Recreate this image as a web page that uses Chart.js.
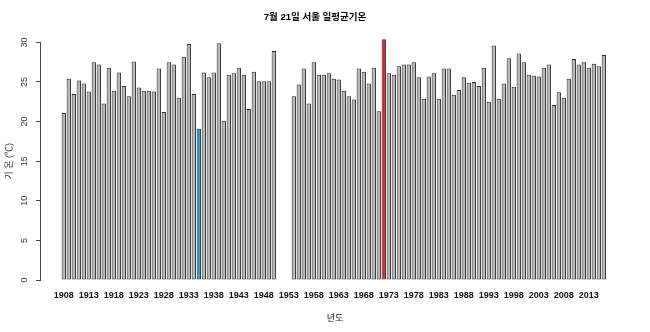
<!DOCTYPE html>
<html>
<head>
<meta charset="utf-8">
<script src="https://cdn.jsdelivr.net/npm/chart.js@4"></script>
<style>
  html, body { margin: 0; padding: 0; background: #fff; }
  #wrap { width: 650px; height: 332px; }
</style>
</head>
<body>
<div id="wrap"><canvas id="chart" width="650" height="332"></canvas></div>
<script>
// 연도 (1951~1953 결측)
const years = [
  1908, 1909, 1910, 1911, 1912, 1913, 1914, 1915, 1916, 1917,
  1918, 1919, 1920, 1921, 1922, 1923, 1924, 1925, 1926, 1927,
  1928, 1929, 1930, 1931, 1932, 1933, 1934, 1935, 1936, 1937,
  1938, 1939, 1940, 1941, 1942, 1943, 1944, 1945, 1946, 1947,
  1948, 1949, 1950, 1951, 1952, 1953, 1954, 1955, 1956, 1957,
  1958, 1959, 1960, 1961, 1962, 1963, 1964, 1965, 1966, 1967,
  1968, 1969, 1970, 1971, 1972, 1973, 1974, 1975, 1976, 1977,
  1978, 1979, 1980, 1981, 1982, 1983, 1984, 1985, 1986, 1987,
  1988, 1989, 1990, 1991, 1992, 1993, 1994, 1995, 1996, 1997,
  1998, 1999, 2000, 2001, 2002, 2003, 2004, 2005, 2006, 2007,
  2008, 2009, 2010, 2011, 2012, 2013, 2014, 2015, 2016
];

// 7월 21일 일평균기온 (℃)
const temps = [
  21.1, 25.4, 23.5, 25.2, 24.8, 23.8, 27.5, 27.2, 22.3, 26.8,
  23.9, 26.2, 24.5, 23.2, 27.6, 24.3, 23.9, 23.9, 23.8, 26.7,
  21.2, 27.5, 27.2, 23.0, 28.2, 29.8, 23.5, 19.1, 26.2, 25.6,
  26.2, 29.9, 20.1, 25.9, 26.1, 26.8, 25.9, 21.6, 26.3, 25.1,
  25.1, 25.1, 28.9, null, null, null, 23.2, 24.7, 26.7, 22.3,
  27.5, 25.9, 25.9, 26.1, 25.4, 25.3, 23.9, 23.2, 22.8, 26.7,
  26.3, 24.8, 26.8, 21.3, 30.4, 26.1, 25.9, 27.0, 27.2, 27.2,
  27.5, 25.6, 22.9, 25.7, 26.1, 22.9, 26.7, 26.7, 23.4, 24.0,
  25.6, 24.9, 25.0, 24.5, 26.8, 22.5, 29.6, 22.9, 24.8, 28.0,
  24.4, 28.6, 27.5, 25.9, 25.8, 25.7, 26.8, 27.2, 22.1, 23.7,
  23.0, 25.4, 27.9, 27.2, 27.5, 26.8, 27.3, 27.0, 28.4
];

const tickYears = [
  1908, 1913, 1918, 1923, 1928, 1933, 1938, 1943, 1948, 1953, 1958,
  1963, 1968, 1973, 1978, 1983, 1988, 1993, 1998, 2003, 2008, 2013
];
const yTicks = [0, 5, 10, 15, 20, 25, 30];

const FONT = '"Liberation Sans", "Noto Sans CJK KR", Arial, sans-serif';

// 최고/최저 강조
const valid = temps.filter(v => v !== null);
const maxT = Math.max(...valid);
const minT = Math.min(...valid);
const colors = temps.map(v => v === maxT ? '#e5222b' : v === minT ? '#189fe0' : '#b6b6b6');

new Chart(document.getElementById('chart'), {
  type: 'bar',
  data: {
    datasets: [{
      data: years.map((y, i) => ({ x: y, y: temps[i] })),
      backgroundColor: colors,
      borderColor: '#2a2a2a',
      borderWidth: 1,
      borderSkipped: false,
      barPercentage: 0.86,
      categoryPercentage: 1,
      clip: false
    }]
  },
  options: {
    responsive: false,
    animation: false,
    layout: { padding: { left: 0, right: 20, top: 0, bottom: 0 } },
    plugins: {
      legend: { display: false },
      tooltip: { enabled: false },
      title: {
        display: true,
        text: '7월 21일 서울 일평균기온',
        color: '#000',
        font: { family: FONT, size: 9.5, weight: 'bold' },
        padding: { top: 12, bottom: 19 }
      }
    },
    scales: {
      x: {
        type: 'linear',
        offset: false,
        min: 1903.24,
        max: 2021.24,
        grid: { display: false, drawTicks: false },
        border: { display: false },
        afterBuildTicks: s => { s.ticks = tickYears.map(v => ({ value: v })); },
        ticks: {
          autoSkip: false, minRotation: 0, maxRotation: 0, padding: 10,
          color: '#111', font: { family: FONT, size: 9, weight: 'bold' },
          callback: v => String(v)
        },
        title: {
          display: true, text: '년도', color: '#222',
          font: { family: FONT, size: 9 },
          padding: { top: 4, bottom: 8 }
        },
        afterFit: s => { s.height = 52; }
      },
      y: {
        min: 0,
        max: 30,
        afterBuildTicks: s => { s.ticks = yTicks.map(v => ({ value: v })); },
        grid: { drawOnChartArea: false, tickLength: 4, color: '#444' },
        border: { display: true, color: '#444' },
        ticks: {
          minRotation: 90, maxRotation: 90, crossAlign: 'center', padding: 6,
          color: '#333', font: { family: FONT, size: 9 }
        },
        title: {
          display: true, text: '기 온 (℃)', color: '#333',
          font: { family: FONT, size: 9 },
          padding: { top: 4, bottom: 4 }
        },
        afterFit: s => { s.width = 40; }
      }
    }
  }
});
</script>
</body>
</html>
